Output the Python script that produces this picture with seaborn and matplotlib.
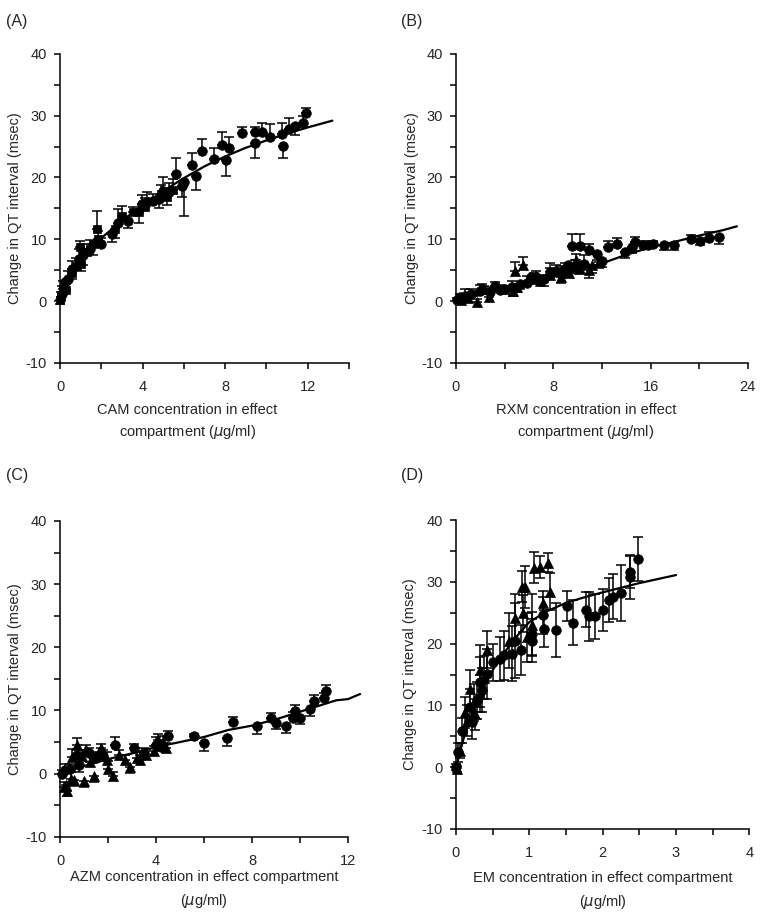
import matplotlib
matplotlib.use("Agg")
import matplotlib.pyplot as plt
import seaborn as sns

sns.set_style("ticks")
plt.rcParams["font.family"] = ["Liberation Sans", "DejaVu Sans"]
plt.rcParams["axes.unicode_minus"] = False

# ---- Panel A: CAM (circles + squares), error sign: + up, - down
a_cx = [11.9, 11.8, 11.4, 11.1, 10.75, 10.8, 10.2, 9.8, 9.47, 9.47,
        8.8, 8.2, 8.05, 7.85, 7.45, 6.9, 6.6, 6.4, 6.0, 5.6,
        5.9, 5.3, 5.0, 4.8, 4.5, 4.2, 3.95, 3.3, 2.8, 2.5,
        2.0, 1.45, 1.13, 0.9, 0.56, 0.4, 0.24, 0.08]
a_cy = [30.5, 28.8, 28.3, 27.9, 27.0, 25.1, 26.5, 27.3, 27.3, 25.6,
        27.2, 24.8, 22.8, 25.3, 23.0, 24.3, 20.3, 22.0, 19.2, 20.5,
        18.7, 17.6, 17.8, 16.5, 16.2, 16.0, 15.7, 13.0, 12.7, 10.9,
        9.2, 8.4, 7.4, 6.8, 5.2, 3.6, 3.1, 1.2]
a_ce = [0.8, 1.2, -1.5, 1.7, 1.9, -1.9, 2.2, 1.6, 0.9, -2.4,
        0.9, 1.8, -2.5, 2.0, 1.8, 1.9, -2.3, 1.9, -5.5, 2.7,
        -1.8, 1.5, 2.2, -1.5, 1.2, 1.7, 1.5, -1.2, 2.2, -1.4,
        1.0, 1.5, -1.5, 1.7, 1.3, 1.3, -1.0, 1.2]
a_sx = [5.5, 5.2, 4.9, 4.1, 3.85, 3.55, 3.0, 2.65, 1.77, 1.85,
        1.6, 1.3, 0.97, 0.77, 0.6, 0.16, 0.03, 0.0, 0.3, 1.0]
a_sy = [18.0, 16.9, 17.3, 15.2, 14.4, 14.4, 13.8, 11.7, 11.7, 10.0,
        9.2, 7.9, 8.7, 5.7, 4.5, 2.0, 0.6, 0.1, 1.8, 6.0]
a_se = [1.8, -1.3, 1.5, 1.5, -1.7, 0.8, 1.6, -1.5, 2.8, 1.3,
        -1.7, 1.4, 1.0, 1.2, -1.0, 1.2, 0.8, -0.5, 1.0, -1.2]
a_fit_x = [0, 0.25, 0.5, 1, 1.5, 2, 3, 4, 5, 6, 7, 8, 9, 10, 11, 12, 13.2]
a_fit_y = [0, 2.5, 4.2, 6.8, 8.7, 10.2, 13.0, 15.5, 17.8, 19.9, 21.8, 23.4,
           24.8, 26.0, 27.1, 28.1, 29.2]

# ---- Panel B: RXM (circles + triangles)
b_cx = [21.6, 20.8, 20.1, 19.3, 17.9, 17.1, 16.2, 15.4, 14.7, 14.5,
        13.9, 13.2, 12.5, 11.6, 10.9, 10.2, 9.5, 10.5, 9.8, 9.0,
        8.6, 7.7, 7.2, 6.6, 6.2, 5.3, 4.6, 4.0, 3.2, 2.8,
        2.0, 1.2, 0.7, 0.3, 0.05, 8.2, 9.2, 5.8, 3.6, 12.0,
        15.8]
b_cy = [10.4, 10.2, 9.8, 10.0, 9.1, 9.0, 9.2, 9.1, 9.5, 8.7,
        7.9, 9.2, 8.7, 7.6, 8.2, 8.9, 8.9, 6.0, 5.2, 5.2,
        4.4, 4.7, 3.6, 3.9, 3.9, 2.8, 2.3, 2.0, 2.5, 1.5,
        1.7, 1.2, 0.9, 0.6, 0.1, 4.8, 5.8, 3.0, 1.8, 6.5,
        9.0]
b_ce = [-1.2, 1.0, -0.8, 0.7, -0.8, -0.7, 0.6, 0.6, 0.8, -0.9,
        -0.9, 1.0, 1.0, -1.0, 1.0, 1.9, 1.9, 1.5, 1.5, 1.0,
        1.2, 1.5, -1.2, 1.0, -1.0, -0.8, 0.9, -0.8, 0.6, 0.8,
        0.9, 0.8, 1.0, 0.5, 0.4, 1.0, -1.0, 1.0, 0.8, -1.0,
        0.6]
b_tx = [5.5, 4.85, 10.9, 10.2, 8.6, 2.7, 1.7, 2.1, 4.7, 6.4,
        7.7, 11.8, 0.4, 9.3, 1.0, 2.3, 5.0, 6.9, 9.9, 11.2]
b_ty = [5.8, 4.9, 5.0, 5.2, 3.9, 0.6, -0.2, 2.0, 1.7, 3.6,
        4.2, 6.3, 0.2, 4.5, 0.5, 1.9, 2.2, 3.3, 6.6, 5.8]
b_te = [1.4, 1.4, -1.2, 1.2, -1.0, 0.8, 0.5, 0.7, -0.9, 1.0,
        1.2, -1.0, 0.6, 1.3, 0.6, 0.6, -0.8, 0.9, 1.0, -1.2]
b_fit_x = [0, 2, 4, 6, 8, 10, 12, 14, 16, 18, 20, 22, 23.1]
b_fit_y = [0, 1.0, 2.0, 3.0, 3.9, 5.0, 6.1, 7.5, 8.7, 9.6, 10.6, 11.5, 12.1]

# ---- Panel C: AZM (circles + triangles)
c_cx = [11.1, 11.0, 10.6, 10.4, 10.0, 9.8, 9.7, 9.4, 9.0, 8.8,
        8.2, 7.2, 6.95, 6.0, 5.6, 4.5, 4.0, 3.1, 2.3, 1.5,
        0.8, 0.4, 0.07, 0.7, 0.2, 1.2, 1.8, 3.5, 4.2]
c_cy = [13.1, 12.0, 11.5, 10.2, 8.8, 9.9, 8.8, 7.5, 8.0, 8.8,
        7.5, 8.1, 5.6, 4.8, 6.0, 5.9, 4.6, 4.1, 4.6, 2.4,
        1.3, 0.8, 0.0, 2.9, 0.5, 3.3, 2.8, 3.3, 4.2]
c_ce = [1.0, 0.8, 1.0, -1.0, -1.0, 1.0, 1.0, -1.0, -1.0, 0.8,
        -1.2, 0.8, -1.2, -1.2, 0.3, 0.8, 1.2, 0.6, 1.2, 1.0,
        -1.0, 0.8, 0.5, 1.0, 1.0, 0.8, 1.0, 0.8, 1.0]
c_tx = [0.7, 0.5, 0.3, 0.15, 1.0, 1.4, 1.7, 1.95, 2.2, 2.45,
        2.9, 3.35, 3.6, 4.1, 4.4, 1.1, 1.25, 0.6, 0.25, 0.45,
        0.9, 1.6, 2.0, 2.7, 3.2, 3.9, 4.3]
c_ty = [4.5, 2.7, -2.7, -2.1, -1.1, -0.3, 4.0, 2.1, -0.3, 2.9,
        1.1, 2.1, 2.9, 5.3, 4.0, 3.7, 1.9, -1.0, -1.8, -0.8,
        2.8, 3.1, 0.8, 2.2, 2.5, 3.6, 4.8]
c_te = [1.2, 1.2, -0.8, 0.8, -1.0, -1.0, 0.7, 1.3, 0.6, 0.9,
        -1.0, 0.8, 1.0, 1.0, 0.9, 0.8, 1.0, -1.0, -1.0, 1.0,
        1.0, -1.0, 1.2, 0.8, 1.0, 0.8, 1.2]
c_fit_x = [0, 1, 2, 3, 4, 5, 6, 7, 8, 9, 10, 11, 11.5, 12, 12.5]
c_fit_y = [0, 1.2, 2.3, 3.2, 4.2, 5.0, 5.8, 6.9, 7.6, 8.6, 9.8, 11.0, 11.6, 11.8, 12.6]

# ---- Panel D: EM (circles + triangles), symmetric errors
d_cx = [2.48, 2.37, 2.37, 2.25, 2.14, 2.08, 2.0, 1.89, 1.82, 1.77,
        1.59, 1.51, 1.36, 1.2, 1.19, 1.03, 1.03, 0.8, 0.76, 0.65,
        0.51, 0.42, 0.33, 0.28, 0.19, 0.08, 0.03, 0.0, 0.22, 0.36,
        0.6, 0.88]
d_cy = [33.7, 31.6, 30.8, 28.2, 27.6, 27.1, 25.5, 24.4, 24.4, 25.5,
        23.4, 26.1, 22.2, 22.4, 24.6, 20.5, 21.6, 20.5, 18.4, 18.1,
        17.0, 15.1, 13.8, 10.8, 9.7, 5.9, 2.4, 0.0, 7.3, 12.5,
        17.5, 19.0]
d_ce = [3.5, 2.6, 3.5, 4.6, 3.6, 3.6, 3.4, 3.7, 4.0, 2.8,
        3.6, 2.4, 4.4, 3.0, 3.0, 3.5, 3.5, 6.0, 4.5, 4.0,
        3.0, 4.0, 4.0, 3.0, 3.0, 2.0, 1.5, 0.5, 2.8, 3.5,
        3.5, 4.0]
d_tx = [1.26, 1.15, 1.06, 0.94, 0.9, 1.28, 1.19, 0.92, 1.03, 0.8,
        0.42, 0.33, 0.19, 0.12, 0.05, 0.02, 0.33, 0.26, 0.15, 0.24,
        0.38, 0.72, 0.97]
d_ty = [33.1, 32.4, 32.3, 29.2, 29.2, 28.4, 26.5, 24.9, 23.0, 24.1,
        19.0, 15.7, 12.7, 8.9, 2.7, -0.3, 11.9, 8.6, 7.5, 10.5,
        14.5, 20.5, 21.0]
d_te = [1.5, 1.8, 2.5, 3.4, 2.5, 3.0, 2.0, 3.0, 5.0, 4.0,
        3.0, 4.0, 3.0, 2.5, 1.2, 0.5, 3.0, 2.5, 2.5, 3.0,
        3.5, 4.5, 4.0]
d_fit_x = [0, 0.1, 0.2, 0.3, 0.4, 0.5, 0.6, 0.8, 1.0, 1.25, 1.5, 1.75, 2.0, 2.5, 3.0]
d_fit_y = [0, 4.5, 8, 11, 13.5, 15.7, 17.6, 20.8, 23.5, 25.3, 26.6, 27.5, 28.3, 29.8, 31.1]

ylab = "Change in QT interval (msec)"


def draw_panel(ax, groups, fit_x, fit_y, xlim, xmaj, xmin, xlabel, xlab_pos, ylab_x,
               linesp, both=False):
    sns.lineplot(x=fit_x, y=fit_y, ax=ax, color="black", linewidth=1.6,
                 sort=False, estimator=None, clip_on=False, zorder=2)
    for xs, ys, es, mk, s in groups:
        if both:
            lo = es
            hi = es
        else:
            lo = [-e if e < 0 else 0 for e in es]
            hi = [e if e > 0 else 0 for e in es]
        ax.errorbar(xs, ys, yerr=[lo, hi], fmt="none", ecolor="black",
                    elinewidth=1.1, capsize=3.6, capthick=1.1, zorder=3,
                    clip_on=False)
        sns.scatterplot(x=xs, y=ys, ax=ax, marker=mk, s=s, color="black",
                        edgecolor="black", linewidth=0.5, zorder=4, clip_on=False,
                        legend=False)
    ax.set_xlim(*xlim)
    ax.set_ylim(-10, 40)
    ax.set_xticks(xmaj)
    ax.set_xticks(xmin, minor=True)
    ax.set_yticks([-10, 0, 10, 20, 30, 40])
    ax.set_yticks([-5, 5, 15, 25, 35], minor=True)
    ax.tick_params(which="both", direction="out", length=4.5, width=1.1,
                   labelsize=10.5, color="black")
    ax.tick_params(axis="x", pad=8)
    ax.tick_params(axis="y", pad=5)
    sns.despine(ax=ax)
    for sp in ["left", "bottom"]:
        ax.spines[sp].set_linewidth(1.1)
        ax.spines[sp].set_color("black")
    ax.set_xlabel(xlabel, fontsize=10.5, linespacing=linesp)
    ax.xaxis.set_label_coords(*xlab_pos)
    ax.set_ylabel(ylab, fontsize=10.5)
    ax.yaxis.set_label_coords(ylab_x, 0.5)


fig = plt.figure(figsize=(7.6, 9.14), dpi=100)
axA = fig.add_axes([0.079, 0.603, 0.380, 0.338])
axB = fig.add_axes([0.600, 0.603, 0.384, 0.338])
axC = fig.add_axes([0.079, 0.0845, 0.379, 0.3455])
axD = fig.add_axes([0.600, 0.093, 0.386, 0.338])

draw_panel(axA, [(a_sx, a_sy, a_se, "s", 40), (a_cx, a_cy, a_ce, "o", 48)],
           a_fit_x, a_fit_y, (0, 14), [0, 4, 8, 12], [2, 6, 10, 14],
           "CAM concentration in effect\ncompartment ($\\mu$g/ml)", (0.44, -0.13), -0.13, 1.45)
draw_panel(axB, [(b_tx, b_ty, b_te, "^", 52), (b_cx, b_cy, b_ce, "o", 48)],
           b_fit_x, b_fit_y, (0, 24), [0, 8, 16, 24], [4, 12, 20],
           "RXM concentration in effect\ncompartment ($\\mu$g/ml)", (0.445, -0.13), -0.127, 1.45)
draw_panel(axC, [(c_tx, c_ty, c_te, "^", 52), (c_cx, c_cy, c_ce, "o", 48)],
           c_fit_x, c_fit_y, (0, 12), [0, 4, 8, 12], [2, 6, 10],
           "AZM concentration in effect compartment\n($\\mu$g/ml)", (0.5, -0.105), -0.132, 1.65)
draw_panel(axD, [(d_tx, d_ty, d_te, "^", 52), (d_cx, d_cy, d_ce, "o", 48)],
           d_fit_x, d_fit_y, (0, 4), [0, 1, 2, 3, 4], [0.5, 1.5, 2.5, 3.5],
           "EM concentration in effect compartment\n($\\mu$g/ml)", (0.5, -0.135), -0.133, 1.65,
           both=True)

for lab, x, y in [("(A)", 0.008, 0.985), ("(B)", 0.528, 0.985),
                  ("(C)", 0.008, 0.488), ("(D)", 0.528, 0.488)]:
    fig.text(x, y, lab, fontsize=11.5, ha="left", va="top")

fig.savefig("out.png", dpi=100, facecolor="white")
